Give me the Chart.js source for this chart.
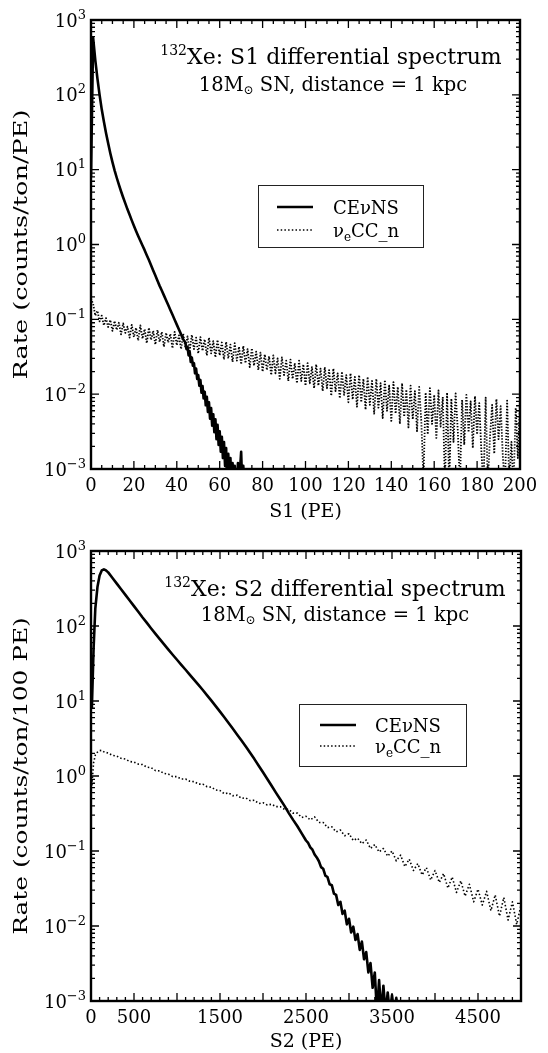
<!DOCTYPE html>
<html>
<head>
<meta charset="utf-8">
<script src="https://cdn.jsdelivr.net/npm/chart.js@4.4.1/dist/chart.umd.min.js"></script>
<style>
  html, body { margin: 0; padding: 0; background: #fff; }
  canvas { display: block; }
</style>
</head>
<body>
<canvas id="s1chart" width="548" height="525"></canvas>
<canvas id="s2chart" width="548" height="528"></canvas>
<script>
// ---------- S1 spectrum, counts/ton/PE ----------
const s1CevnsPE = [0,1,2,3,4,5,6,7,8,9,10,11,12,13,14,15,16,17,18,19,20,21,22,23,24,25,26,27,28,29,30,31,32,33,34,35,36,37,38,39,40,41,42,43,
  44,44.5,45,45.5,46,46.5,47,47.5,48,48.5,49,49.5,50,50.5,51,51.5,52,52.5,53,53.5,54,54.5,55,55.5,56,56.5,57,57.5,58,58.5,59,59.5,
  60,60.5,61,61.5,62,62.5,63,63.5,64,64.5,65,65.5,66,66.5,67,67.5,68,68.5,69,70,70.5,71,71.5,72];
const s1CevnsRate = [8,575,290,165,100,64,44,31,22.5,16.6,12.6,9.8,7.8,6.3,5.15,4.25,3.55,2.95,2.5,2.1,1.78,1.52,1.3,1.12,0.97,0.84,
  0.72,0.62,0.53,0.45,0.385,0.327,0.28,0.243,0.209,0.18,0.155,0.133,0.115,0.099,0.085,0.073,0.063,0.054,
  0.049,0.040,0.043,0.033,0.037,0.027,0.031,0.024,0.026,0.019,0.022,0.016,0.018,0.013,0.0155,0.0105,0.0128,0.0088,0.0108,0.0071,
  0.0092,0.0058,0.0078,0.0047,0.0065,0.0038,0.0054,0.0031,0.0046,0.0025,0.0039,0.0021,0.0032,0.0017,0.0027,0.0014,0.0023,0.0011,
  0.0019,0.0006,0.0016,0.0006,0.0014,0.0006,0.0012,0.0006,0.0011,0.0006,0.0006,0.0012,0.0006,0.0017,0.0006,0.0011,0.0006,0.0006];
// one bin per PE, S1 = 0 ... 200
const s1CcRate = [0.19,0.16,0.112,0.13,0.094,0.112,0.083,0.104,0.079,0.098,
  0.07,0.095,0.072,0.09,0.063,0.088,0.066,0.08,0.057,0.084,
  0.058,0.077,0.052,0.083,0.055,0.074,0.048,0.077,0.053,0.07,
  0.046,0.072,0.05,0.068,0.043,0.066,0.049,0.064,0.041,0.068,
  0.045,0.061,0.04,0.064,0.042,0.059,0.038,0.062,0.04,0.057,
  0.035,0.058,0.038,0.054,0.033,0.057,0.035,0.051,0.031,0.053,
  0.033,0.049,0.029,0.05,0.03,0.046,0.027,0.048,0.028,0.043,
  0.025,0.044,0.026,0.04,0.023,0.041,0.024,0.037,0.021,0.036,
  0.02,0.034,0.021,0.032,0.018,0.033,0.019,0.03,0.016,0.031,
  0.018,0.028,0.015,0.029,0.016,0.026,0.014,0.028,0.015,0.025,
  0.013,0.026,0.014,0.023,0.012,0.025,0.013,0.022,0.011,0.023,
  0.012,0.021,0.0095,0.022,0.011,0.019,0.0088,0.02,0.0098,0.018,
  0.0078,0.019,0.0085,0.017,0.0068,0.018,0.0078,0.016,0.0062,0.017,
  0.0072,0.015,0.0055,0.016,0.0066,0.014,0.0048,0.0155,0.006,0.013,
  0.0044,0.0145,0.0055,0.0125,0.004,0.014,0.005,0.0115,0.0036,0.013,
  0.0046,0.011,0.0032,0.0125,0.0043,0.0007,0.0105,0.0029,0.012,0.004,
  0.0098,0.0026,0.0112,0.0037,0.0092,0.0006,0.0105,0.0006,0.0087,0.0023,
  0.0102,0.0033,0.0006,0.0084,0.0021,0.0098,0.0031,0.008,0.0019,0.0094,
  0.0029,0.0076,0.0017,0.0006,0.009,0.0006,0.0027,0.0072,0.0016,0.0086,
  0.0025,0.0069,0.0015,0.0006,0.0082,0.0006,0.0023,0.0006,0.0066,0.0014,
  0.0078];
const s1XRange = [0, 200];
const s1XStep = 20;

// ---------- S2 spectrum, counts/ton/100 PE ----------
const s2CevnsPE = [10,30,50,75,100,125,150,175,200,250,300,350,400,450,500,550,600,650,700,750,800,850,900,950,1000,
  1050,1100,1150,1200,1250,1300,1350,1400,1450,1500,1550,1600,1650,1700,1750,1800,1850,1900,1950,2000,2050,2100,2150,
  2200,2250,2300,2350,2400,2450,2500,2525,2550,2575,2600,2625,2650,2675,2700,2725,2750,2775,2800,2825,2850,2875,2900,
  2925,2950,2975,3000,3025,3050,3075,3100,3125,3150,3175,3200,3225,3250,3275,3300,3325,3350,3375,3400,3425,3450,3475,
  3500,3525,3550,3575];
const s2CevnsRate = [8,50,170,330,470,550,570,550,519,437,367,309,260,219,184,155,130,110,92.7,78.5,66.7,56.8,48.4,41.4,35.5,
  30.4,26.1,22.3,19.1,16.4,14.0,11.9,10.1,8.55,7.21,6.07,5.09,4.27,3.56,2.97,2.47,2.04,1.68,1.37,1.12,0.91,0.74,0.60,
  0.49,0.40,0.32,0.26,0.214,0.172,0.138,0.128,0.112,0.104,0.09,0.082,0.073,0.061,0.058,0.047,0.045,0.036,0.035,0.027,0.026,0.019,0.021,
  0.0145,0.016,0.0105,0.0125,0.0082,0.0098,0.0065,0.0078,0.0048,0.0062,0.0036,0.0045,0.0024,0.0032,0.0015,0.0024,0.0007,0.0019,0.0007,
  0.0016,0.0007,0.0013,0.0007,0.0012,0.0007,0.0011,0.0007];
const s2CcPE = [10,30,50,75,100,125,150,200,250,300,350,400,450,500,550,600,650,700,750,800,850,900,950,1000,
  1050,1100,1150,1200,1250,1300,1350,1400,1450,1500,1550,1600,1650,1700,1750,1800,1850,1900,1950,2000,
  2050,2100,2150,2200,2250,2300,2350,2400,2450,2500,2550,2600,2650,2700,2750,2800,2850,2900,2950,3000,
  3050,3100,3150,3200,3250,3300,3350,3400,3450,3500,3550,3600,3650,3700,3750,3800,3850,3900,3950,4000,
  4050,4100,4150,4200,4250,4300,4350,4400,4450,4500,4550,4600,4650,4700,4750,4800,4850,4900,4950,5000];
const s2CcRate = [0.75,1.5,1.9,2.08,2.18,2.2,2.1,2.02,1.88,1.84,1.72,1.68,1.56,1.53,1.44,1.42,1.31,1.29,1.18,1.17,1.08,1.06,0.98,0.98,
  0.91,0.91,0.85,0.84,0.78,0.78,0.72,0.71,0.65,0.64,0.58,0.595,0.545,0.555,0.505,0.51,0.47,0.475,0.43,0.44,
  0.41,0.42,0.39,0.39,0.36,0.36,0.32,0.32,0.28,0.29,0.26,0.285,0.24,0.24,0.205,0.21,0.18,0.19,0.16,0.17,
  0.138,0.148,0.125,0.14,0.108,0.122,0.097,0.108,0.085,0.1,0.074,0.088,0.062,0.078,0.055,0.068,0.048,0.06,0.041,0.055,
  0.038,0.05,0.032,0.045,0.028,0.04,0.025,0.036,0.021,0.031,0.019,0.029,0.016,0.026,0.0135,0.024,0.012,0.021,0.0105,0.019];
const s2XRange = [0, 5000];
const s2XStep = 500;
const s2XLabels = [0, 500, 1500, 2500, 3500, 4500];

const yRange = [1e-3, 1e3];
const yDecades = [-3, -2, -1, 0, 1, 2, 3];

const FONT = "'DejaVu Serif', 'Liberation Serif', serif";
Chart.defaults.color = '#000';
Chart.defaults.font.family = FONT;

function pts(xs, ys) { return xs.map((x, i) => ({ x: x, y: ys[i] })); }

function drawRich(ctx, parts, x, baseline, align) {
  let w = 0;
  for (const p of parts) { ctx.font = p.size + 'px ' + FONT; w += ctx.measureText(p.t).width; }
  let cx = align === 'center' ? x - w / 2 : align === 'right' ? x - w : x;
  ctx.textAlign = 'left';
  ctx.textBaseline = 'alphabetic';
  ctx.fillStyle = '#000';
  for (const p of parts) {
    ctx.font = p.size + 'px ' + FONT;
    ctx.fillText(p.t, cx, baseline + (p.dy || 0));
    cx += ctx.measureText(p.t).width;
  }
}

// frame, inward ticks on all four sides, decade labels, axis label, title block and legend
const decorations = {
  id: 'decorations',
  afterDraw(chart, args, o) {
    const { ctx, chartArea: a, scales: { x, y } } = chart;
    ctx.save();
    ctx.strokeStyle = '#000';
    ctx.lineWidth = 1.3;
    ctx.beginPath();
    const n = Math.round((o.xMax - o.xMin) / o.xMinor);
    for (let i = 0; i <= n; i++) {
      const v = o.xMin + i * o.xMinor;
      const px = x.getPixelForValue(v);
      const len = (i % o.xMinorPerMajor === 0) ? 8 : 4;
      ctx.moveTo(px, a.bottom); ctx.lineTo(px, a.bottom - len);
      ctx.moveTo(px, a.top); ctx.lineTo(px, a.top + len);
    }
    for (const e of yDecades) {
      for (let m = 1; m <= 9; m++) {
        if (e === 3 && m > 1) break;
        const py = y.getPixelForValue(m * Math.pow(10, e));
        const len = m === 1 ? 8 : 4;
        ctx.moveTo(a.left, py); ctx.lineTo(a.left + len, py);
        ctx.moveTo(a.right, py); ctx.lineTo(a.right - len, py);
      }
    }
    ctx.stroke();
    ctx.lineWidth = 2.4;
    ctx.strokeRect(a.left, a.top, a.right - a.left, a.bottom - a.top);

    // decade labels on the y axis
    for (const e of yDecades) {
      const py = y.getPixelForValue(Math.pow(10, e));
      const ex = String(e).replace('-', '\u2212');
      drawRich(ctx, [{ t: '10', size: 18 }, { t: ex, size: 13, dy: -8 }], a.left - 5, py + 6.5, 'right');
    }

    // y axis label, set along the axis
    ctx.save();
    ctx.translate(o.yTitleX, (a.top + a.bottom) / 2);
    ctx.rotate(-Math.PI / 2);
    ctx.scale(o.yTitleStretch, 1);
    ctx.font = '18px ' + FONT;
    ctx.fillStyle = '#000';
    ctx.textAlign = 'center';
    ctx.textBaseline = 'middle';
    ctx.fillText(o.yTitle, 0, 0);
    ctx.restore();

    // title block
    for (const line of o.title) drawRich(ctx, line.parts, line.x, line.y, 'center');

    // legend
    const L = o.legend;
    ctx.lineWidth = 1;
    ctx.strokeStyle = '#222';
    ctx.strokeRect(L.x0 + 0.5, L.y0 + 0.5, L.x1 - L.x0, L.y1 - L.y0);
    for (const row of L.rows) {
      ctx.beginPath();
      ctx.lineWidth = row.width;
      ctx.setLineDash(row.dash);
      ctx.lineCap = 'butt';
      ctx.strokeStyle = '#000';
      ctx.moveTo(L.lineX0, row.y); ctx.lineTo(L.lineX1, row.y);
      ctx.stroke();
      ctx.setLineDash([]);
      drawRich(ctx, row.parts, L.textX, row.y + 6.5, 'left');
    }
    ctx.restore();
  }
};

const cevnsLabel = [{ t: 'CE\u03bdNS', size: 18 }];
const ccLabel = [{ t: '\u03bd', size: 18 }, { t: 'e', size: 12, dy: 4 }, { t: 'CC_n', size: 18 }];
const solidStyle = { borderColor: '#000', borderWidth: 2.6, pointRadius: 0, tension: 0, borderJoinStyle: 'round', clip: 0 };
const dotStyle = { borderColor: '#000', borderWidth: 1.6, borderDash: [1.5, 2.2], borderCapStyle: 'butt', pointRadius: 0, tension: 0, borderJoinStyle: 'round', clip: 0 };
const denseDotStyle = Object.assign({}, dotStyle, { borderWidth: 1.8, borderDash: [1.4, 1.6] });

function makeChart(id, cfg) {
  return new Chart(document.getElementById(id), {
    type: 'line',
    data: { datasets: cfg.datasets },
    options: {
      responsive: false,
      animation: false,
      devicePixelRatio: 1,
      layout: { padding: cfg.padding },
      plugins: { legend: { display: false }, tooltip: { enabled: false }, decorations: cfg.deco },
      scales: {
        x: {
          type: 'linear', min: cfg.xRange[0], max: cfg.xRange[1],
          grid: { display: false, drawTicks: false }, border: { display: false },
          ticks: { stepSize: cfg.xStep, autoSkip: false, maxRotation: 0, padding: 7,
                   font: { size: 18, family: FONT }, callback: cfg.xLabel },
          title: { display: true, text: cfg.xTitle, font: { size: 19, family: FONT }, padding: { top: 0, bottom: cfg.xTitlePad } },
          afterFit: s => { s.height = cfg.xHeight; }
        },
        y: {
          type: 'logarithmic', min: yRange[0], max: yRange[1],
          grid: { display: false, drawTicks: false }, border: { display: false },
          ticks: { display: false },
          title: { display: false },
          afterFit: s => { s.width = 91; }
        }
      }
    },
    plugins: [decorations]
  });
}

makeChart('s1chart', {
  datasets: [
    Object.assign({ label: 'CE\u03bdNS', data: pts(s1CevnsPE, s1CevnsRate) }, solidStyle),
    Object.assign({ label: '\u03bdeCC_n', data: s1CcRate.map((r, pe) => ({ x: pe, y: r })) }, denseDotStyle)
  ],
  padding: { top: 20, right: 28, left: 0, bottom: 0 },
  xRange: s1XRange, xStep: s1XStep, xHeight: 56, xTitlePad: 2,
  xLabel: v => String(v),
  xTitle: 'S1 (PE)',
  deco: {
    yTitle: 'Rate (counts/ton/PE)', yTitleX: 22, yTitleStretch: 1.42,
    xMin: s1XRange[0], xMax: s1XRange[1], xMinor: 5, xMinorPerMajor: 4,
    title: [
      { x: 331, y: 64, parts: [{ t: '132', size: 14, dy: -9 }, { t: 'Xe: S1 differential spectrum', size: 22 }] },
      { x: 333, y: 91, parts: [{ t: '18M', size: 19.5 }, { t: '\u2299', size: 12, dy: 3 }, { t: ' SN, distance = 1 kpc', size: 19.5 }] }
    ],
    legend: {
      x0: 258, y0: 185, x1: 423, y1: 247, lineX0: 277, lineX1: 313, textX: 333,
      rows: [
        { y: 207, width: 2.6, dash: [], parts: cevnsLabel },
        { y: 230, width: 1.5, dash: [1.5, 2.2], parts: ccLabel }
      ]
    }
  }
});

makeChart('s2chart', {
  datasets: [
    Object.assign({ label: 'CE\u03bdNS', data: pts(s2CevnsPE, s2CevnsRate) }, solidStyle),
    Object.assign({ label: '\u03bdeCC_n', data: pts(s2CcPE, s2CcRate) }, dotStyle)
  ],
  padding: { top: 26, right: 27, left: 0, bottom: 0 },
  xRange: s2XRange, xStep: s2XStep, xHeight: 52, xTitlePad: 0,
  xLabel: v => (s2XLabels.includes(v) ? String(v) : ''),
  xTitle: 'S2 (PE)',
  deco: {
    yTitle: 'Rate (counts/ton/100 PE)', yTitleX: 22, yTitleStretch: 1.38,
    xMin: s2XRange[0], xMax: s2XRange[1], xMinor: 100, xMinorPerMajor: 5,
    title: [
      { x: 335, y: 71, parts: [{ t: '132', size: 14, dy: -9 }, { t: 'Xe: S2 differential spectrum', size: 22 }] },
      { x: 335, y: 96, parts: [{ t: '18M', size: 19.5 }, { t: '\u2299', size: 12, dy: 3 }, { t: ' SN, distance = 1 kpc', size: 19.5 }] }
    ],
    legend: {
      x0: 299, y0: 179, x1: 466, y1: 241, lineX0: 320, lineX1: 356, textX: 375,
      rows: [
        { y: 200, width: 2.6, dash: [], parts: cevnsLabel },
        { y: 221, width: 1.5, dash: [1.5, 2.2], parts: ccLabel }
      ]
    }
  }
});
</script>
</body>
</html>
